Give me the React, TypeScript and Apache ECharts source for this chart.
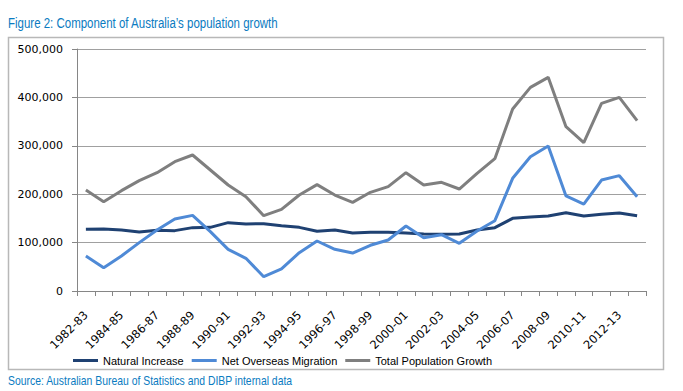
import React, { useEffect, useRef } from "react";
import * as echarts from "echarts";

const categories = [
  "1982-83", "1983-84", "1984-85", "1985-86", "1986-87", "1987-88", "1988-89", "1989-90",
  "1990-91", "1991-92", "1992-93", "1993-94", "1994-95", "1995-96", "1996-97", "1997-98",
  "1998-99", "1999-00", "2000-01", "2001-02", "2002-03", "2003-04", "2004-05", "2005-06",
  "2006-07", "2007-08", "2008-09", "2009-10", "2010-11", "2011-12", "2012-13", "2013-14",
];

const naturalIncrease = [
  127400, 128100, 126000, 121900, 125300, 124700, 130900, 131500,
  141200, 138400, 139100, 135000, 131500, 123300, 126000, 119800,
  121200, 121200, 119800, 117800, 117100, 117800, 126000, 130900,
  150100, 152900, 155000, 161800, 155000, 158400, 161200, 155600,
];

const netOverseasMigration = [
  72300, 48200, 72300, 99900, 126000, 148800, 156300, 122600,
  86100, 67500, 29600, 45500, 79200, 103300, 86100, 78500,
  94400, 105400, 134300, 110200, 116400, 98500, 124000, 145300,
  232800, 277500, 299600, 196300, 179700, 229300, 238300, 194900,
];

const totalGrowth = [
  208700, 184600, 207300, 228000, 244500, 267200, 281000, 250000,
  219000, 194900, 155600, 168700, 198300, 219700, 198300, 183200,
  203900, 215600, 244500, 219000, 224500, 210700, 243100, 273400,
  376000, 420800, 441400, 339500, 306500, 387700, 400100, 351900,
];

const seriesNames = ["Natural Increase", "Net Overseas Migration", "Total Population Growth"];
const seriesColors = ["#1f4172", "#4f8ad6", "#7f7f7f"];

const titleText = "Figure 2: Component of Australia\u2019s population growth";
const sourceText = "Source: Australian Bureau of Statistics and DIBP internal data";

const sansFont = "'Liberation Sans', Arial, sans-serif";
const axisFont = "'DejaVu Sans', Verdana, sans-serif";

export default function App() {
  const ref = useRef<HTMLDivElement>(null);

  useEffect(() => {
    if (!ref.current) return;
    const chart = echarts.init(ref.current, undefined, { renderer: "svg" });
    const dataSets = [naturalIncrease, netOverseasMigration, totalGrowth];
    chart.setOption({
      animation: false,
      backgroundColor: "#ffffff",
      graphic: [
        {
          type: "rect",
          shape: { x: 8.5, y: 37.5, width: 655, height: 332 },
          style: { fill: "none", stroke: "#b8b8b8", lineWidth: 1.5 },
          silent: true,
        },
        {
          type: "text",
          x: 8,
          y: 23.5,
          scaleX: 0.82,
          silent: true,
          style: {
            text: titleText,
            font: `14px ${sansFont}`,
            fill: "#0a7bc1",
            verticalAlign: "middle",
            align: "left",
          },
        },
        {
          type: "text",
          x: 8,
          y: 380.5,
          scaleX: 0.8,
          silent: true,
          style: {
            text: sourceText,
            font: `13px ${sansFont}`,
            fill: "#0a7bc1",
            verticalAlign: "middle",
            align: "left",
          },
        },
      ],
      legend: {
        left: 73,
        top: 355,
        itemWidth: 25,
        itemHeight: 3,
        itemGap: 8,
        icon: "rect",
        padding: 0,
        data: seriesNames,
        textStyle: { fontFamily: sansFont, fontSize: 11, color: "#000000" },
      },
      grid: { left: 77, right: 37, top: 49, bottom: 100, containLabel: false },
      xAxis: {
        type: "category",
        data: categories,
        boundaryGap: true,
        axisLine: { show: true, lineStyle: { color: "#868686", width: 1 } },
        axisTick: { show: true, interval: 0, length: 5, lineStyle: { color: "#868686" } },
        axisLabel: {
          interval: 1,
          rotate: 45,
          margin: 22,
          padding: [8, 0, 0, 0],
          fontFamily: axisFont,
          fontSize: 11.5,
          color: "#000000",
        },
        splitLine: { show: false },
      },
      yAxis: {
        type: "value",
        min: 0,
        max: 500000,
        interval: 100000,
        axisLine: { show: true, lineStyle: { color: "#868686", width: 1 } },
        axisTick: { show: true, length: 5, lineStyle: { color: "#868686" } },
        axisLabel: {
          margin: 14,
          fontFamily: axisFont,
          fontSize: 11,
          color: "#000000",
          formatter: (v: number) => v.toLocaleString("en-US"),
        },
        splitLine: { show: true, lineStyle: { color: "#a0a0a0", width: 1 } },
      },
      series: seriesNames.map((name, i) => ({
        name,
        type: "line",
        data: dataSets[i],
        symbol: "none",
        color: seriesColors[i],
        lineStyle: { color: seriesColors[i], width: 3 },
        itemStyle: { color: seriesColors[i] },
      })),
    });
    return () => chart.dispose();
  }, []);

  return (
    <div
      ref={ref}
      style={{ position: "absolute", left: 0, top: 0, width: 683, height: 391 }}
    />
  );
}
